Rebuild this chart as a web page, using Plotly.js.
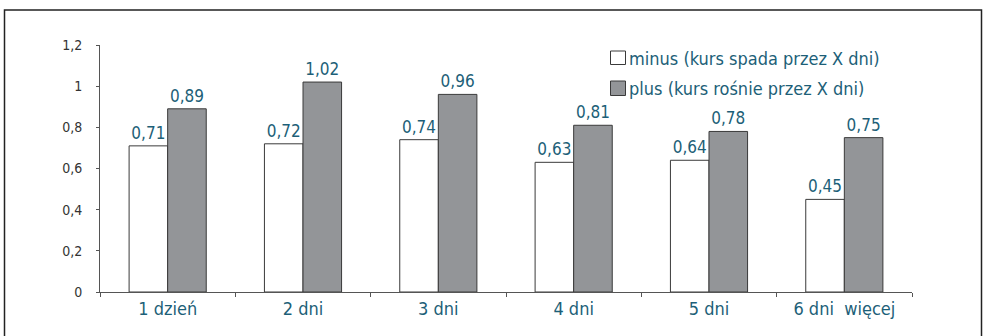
<!DOCTYPE html>
<html>
<head>
<meta charset="utf-8">
<script src="https://cdn.plot.ly/plotly-3.0.1.min.js"></script>
<style>
  html, body { margin: 0; padding: 0; background: #ffffff; }
  #chart { width: 988px; height: 336px; }
</style>
</head>
<body>
<div id="chart"></div>
<script>
// Categories: length of the streak (days)
const categories = ["1 dzień", "2 dni", "3 dni", "4 dni", "5 dni", "6 dni\u00a0 więcej"];
// Series values
const minusValues = [0.71, 0.72, 0.74, 0.63, 0.64, 0.45];
const plusValues = [0.89, 1.02, 0.96, 0.81, 0.78, 0.75];
// Series names
const minusName = "minus (kurs spada przez X dni)";
const plusName = "plus (kurs rośnie przez X dni)";

const W = 988, H = 336;
const margin = { l: 100, r: 76, t: 45, b: 44, pad: 0 };
const plotW = W - margin.l - margin.r;
const plotH = H - margin.t - margin.b;
// pixel -> paper coordinate helpers for frame and legend decorations
const px = x => (x - margin.l) / plotW;
const py = y => (H - margin.b - y) / plotH;

const teal = "#1d5f78";
const font = "'Liberation Sans Narrow', 'DejaVu Sans Condensed', 'Arial Narrow', sans-serif";
const outline = "#3a3a3a";
const greyFill = "#939598";

const common = {
  type: "bar",
  x: categories,
  texttemplate: "%{y:.2f}",
  textposition: "outside",
  textfont: { family: font, size: 17, color: teal },
  cliponaxis: false,
  showlegend: false,
  hoverinfo: "skip"
};

const data = [
  Object.assign({}, common, {
    y: minusValues, name: minusName,
    marker: { color: "#ffffff", line: { color: outline, width: 1 } }
  }),
  Object.assign({}, common, {
    y: plusValues, name: plusName,
    marker: { color: greyFill, line: { color: outline, width: 1 } }
  })
];

const layout = {
  width: W, height: H,
  margin: margin,
  paper_bgcolor: "#ffffff",
  plot_bgcolor: "#ffffff",
  separators: ", ",
  barmode: "group",
  bargap: 0.43,
  bargroupgap: 0,
  font: { family: font, color: "#222" },
  xaxis: {
    type: "category",
    showline: true, linecolor: "#555", linewidth: 1,
    ticks: "outside", tickson: "boundaries", ticklen: 4, tickcolor: "#555",
    tickfont: { family: font, size: 18, color: teal },
    showgrid: false, zeroline: false
  },
  yaxis: {
    range: [0, 1.2], dtick: 0.2, tick0: 0,
    showline: true, linecolor: "#555", linewidth: 1,
    ticks: "outside", ticklen: 3, tickcolor: "#555",
    ticklabelstandoff: 11,
    tickfont: { family: font, size: 14, color: "#333" },
    showgrid: false, zeroline: false
  },
  shapes: [
    // outer frame (bottom edge runs past the page)
    { type: "rect", xref: "paper", yref: "paper",
      x0: px(4.5), x1: px(981.5), y0: py(360), y1: py(10),
      line: { color: "#222", width: 1.5 }, fillcolor: "rgba(0,0,0,0)", layer: "below" },
    // legend swatches
    { type: "rect", xref: "paper", yref: "paper",
      x0: px(610.5), x1: px(625.5), y0: py(64.5), y1: py(51),
      line: { color: outline, width: 1 }, fillcolor: "#ffffff" },
    { type: "rect", xref: "paper", yref: "paper",
      x0: px(610.5), x1: px(625.5), y0: py(95.5), y1: py(81),
      line: { color: outline, width: 1 }, fillcolor: greyFill }
  ],
  annotations: [
    { xref: "paper", yref: "paper", x: px(627), y: py(58), xanchor: "left", yanchor: "middle",
      text: minusName, showarrow: false, font: { family: font, size: 18, color: teal } },
    { xref: "paper", yref: "paper", x: px(627), y: py(88), xanchor: "left", yanchor: "middle",
      text: plusName, showarrow: false, font: { family: font, size: 18, color: teal } }
  ]
};

Plotly.newPlot("chart", data, layout, { displayModeBar: false, staticPlot: true });
</script>
</body>
</html>
